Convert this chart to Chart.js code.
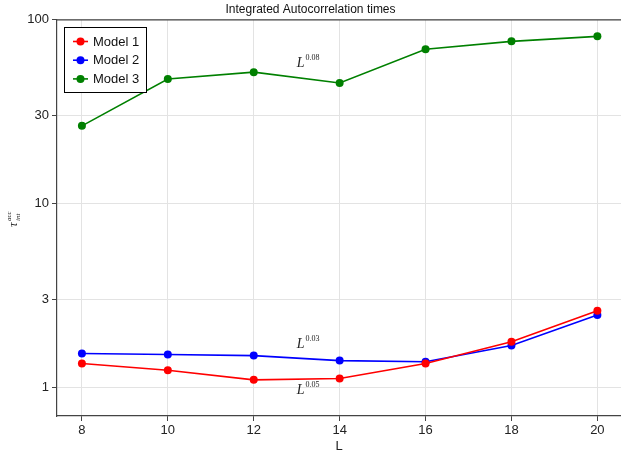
<!DOCTYPE html>
<html>
<head>
<meta charset="utf-8">
<script src="https://cdn.jsdelivr.net/npm/chart.js@4"></script>
<style>
  html, body { margin: 0; padding: 0; background: #fff; }
  #wrap { width: 621px; height: 455px; }
</style>
</head>
<body>
<div id="wrap"><canvas id="chart" width="621" height="455"></canvas></div>
<script>
// values
const sizes = [8, 10, 12, 14, 16, 18, 20];
const model1 = [1.35, 1.24, 1.10, 1.12, 1.35, 1.77, 2.61];
const model2 = [1.53, 1.51, 1.49, 1.40, 1.38, 1.69, 2.48];
const model3 = [26.4, 47.4, 51.7, 45.1, 68.8, 76.0, 80.9];
const seriesNames = ["Model 1", "Model 2", "Model 3"];
const seriesColors = ["#ff0000", "#0000ff", "#008000"];
const yTicks = [1, 3, 10, 30, 100];
const xTicks = [8, 10, 12, 14, 16, 18, 20];
// exponent labels: [x, y, exponent]
const fitLabels = [[13, 59, "0.08"], [13, 1.75, "0.03"], [13, 0.98, "0.05"]];

const sans = "'Liberation Sans', Arial, sans-serif";
const serif = "'Liberation Serif', 'DejaVu Serif', serif";

const makeSet = (i, vals) => ({
  label: seriesNames[i],
  data: sizes.map((x, k) => ({x: x, y: vals[k]})),
  borderColor: seriesColors[i],
  backgroundColor: seriesColors[i],
  borderWidth: 1.6,
  pointRadius: 4,
  pointBorderWidth: 0,
  tension: 0
});

const extras = {
  id: "extras",
  afterDraw(chart) {
    const ctx = chart.ctx;
    const a = chart.chartArea;
    const xs = chart.scales.x, ys = chart.scales.y;
    ctx.save();
    // top frame line
    ctx.strokeStyle = "#444";
    ctx.lineWidth = 1.2;
    ctx.beginPath();
    ctx.moveTo(a.left, a.top + 0.5);
    ctx.lineTo(chart.width, a.top + 0.5);
    ctx.stroke();

    // L^exponent annotations
    ctx.fillStyle = "#222";
    ctx.textBaseline = "alphabetic";
    fitLabels.forEach(([lx, ly, ex]) => {
      const px = xs.getPixelForValue(lx), py = ys.getPixelForValue(ly);
      ctx.font = "italic 14px " + serif;
      ctx.textAlign = "left";
      ctx.fillText("L", px, py + 5);
      const w = ctx.measureText("L").width;
      ctx.font = "8px " + serif;
      ctx.fillText(ex, px + w + 1, py - 2);
    });

    // y axis title: tau_int^acc
    ctx.translate(17, 220);
    ctx.rotate(-Math.PI / 2);
    ctx.font = "italic 13px " + serif;
    ctx.textAlign = "left";
    ctx.fillText("\u03c4", -7, 0);
    ctx.font = "italic 7px " + serif;
    ctx.fillText("int", -1, 3);
    ctx.fillText("acc", -1, -6);
    ctx.setTransform(1, 0, 0, 1, 0, 0);

    // legend box
    const bx = 64, by = 27, bw = 82, bh = 65;
    ctx.fillStyle = "#fff";
    ctx.fillRect(bx, by, bw, bh);
    ctx.strokeStyle = "#000";
    ctx.lineWidth = 1;
    ctx.strokeRect(bx + 0.5, by + 0.5, bw, bh);
    chart.data.datasets.forEach((ds, i) => {
      const ly = 41.5 + i * 18.7;
      ctx.strokeStyle = ds.borderColor;
      ctx.lineWidth = 1.6;
      ctx.beginPath();
      ctx.moveTo(73, ly);
      ctx.lineTo(88, ly);
      ctx.stroke();
      ctx.fillStyle = ds.borderColor;
      ctx.beginPath();
      ctx.arc(80.5, ly, 4, 0, Math.PI * 2);
      ctx.fill();
      ctx.fillStyle = "#111";
      ctx.font = "13px " + sans;
      ctx.textAlign = "left";
      ctx.textBaseline = "middle";
      ctx.fillText(ds.label, 93, ly + 0.5);
    });
    ctx.restore();
  }
};

new Chart(document.getElementById("chart"), {
  type: "line",
  data: {
    datasets: [makeSet(0, model1), makeSet(1, model2), makeSet(2, model3)]
  },
  options: {
    responsive: false,
    animation: false,
    layout: { padding: 0, autoPadding: false },
    plugins: {
      legend: { display: false },
      tooltip: { enabled: false },
      title: {
        display: true,
        text: "Integrated Autocorrelation times",
        color: "#111",
        font: { family: sans, size: 12, weight: "normal" },
        padding: { top: 2, bottom: 3 }
      }
    },
    scales: {
      x: {
        type: "linear",
        min: 7.42,
        max: 20.55,
        afterBuildTicks: s => { s.ticks = xTicks.map(v => ({value: v})); },
        afterFit: s => { s.height = 39; s.paddingLeft = 0; s.paddingRight = 0; },
        ticks: { color: "#222", font: { family: sans, size: 13 }, padding: 2, maxRotation: 0 },
        title: { display: true, text: "L", color: "#222", font: { family: sans, size: 13 }, padding: { top: 0, bottom: 1 } },
        grid: { color: "#e3e3e3", lineWidth: 1, tickLength: 5, tickColor: "#444" },
        border: { color: "#444", width: 1.2 }
      },
      y: {
        type: "logarithmic",
        min: 0.72,
        max: 100,
        afterBuildTicks: s => { s.ticks = yTicks.map(v => ({value: v})); },
        afterFit: s => { s.width = 57; s.paddingTop = 0; s.paddingBottom = 0; },
        ticks: { color: "#222", font: { family: sans, size: 13 }, padding: 3, callback: v => String(v) },
        grid: { color: "#e3e3e3", lineWidth: 1, tickLength: 5, tickColor: "#444" },
        border: { color: "#444", width: 1.2 }
      }
    }
  },
  plugins: [extras]
});
</script>
</body>
</html>
